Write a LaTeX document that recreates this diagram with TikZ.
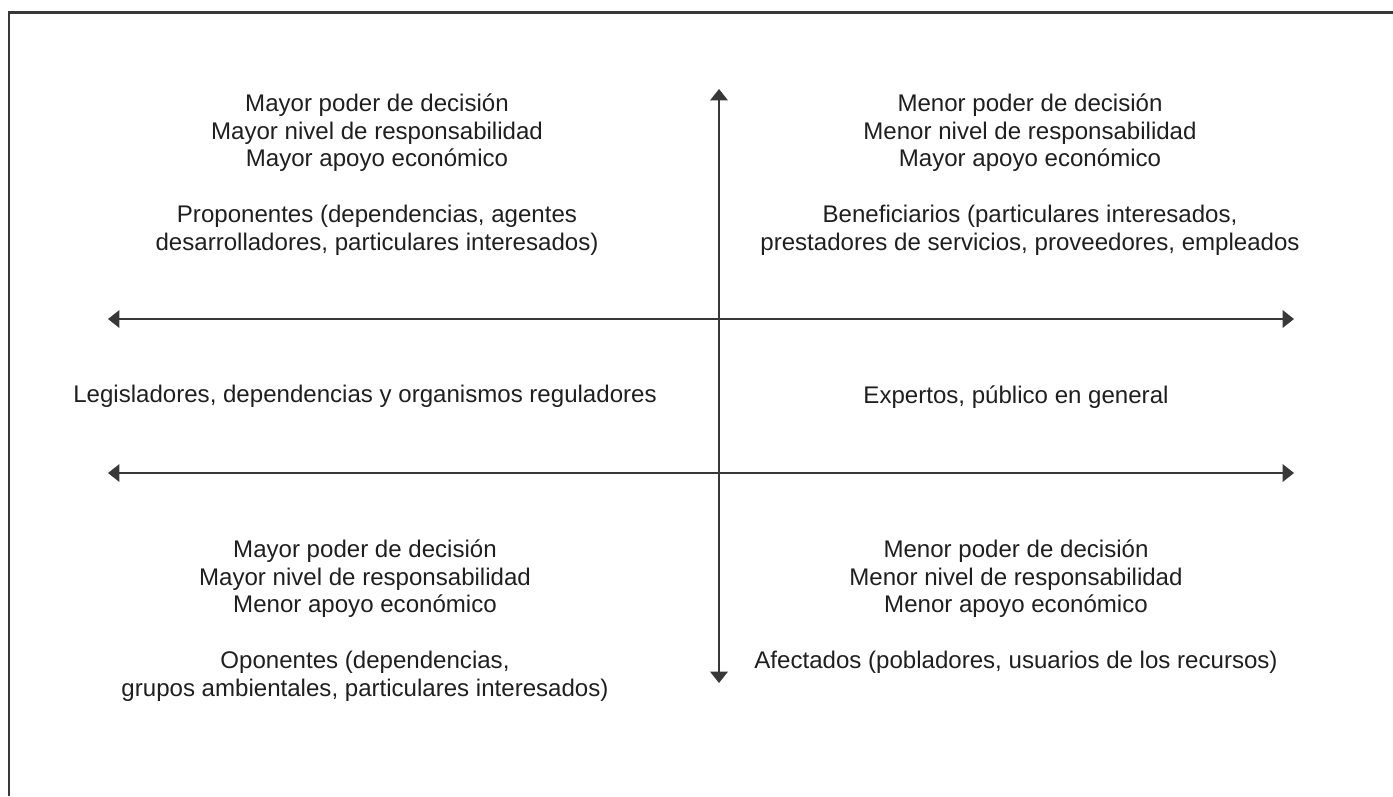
\documentclass[tikz,border=0pt]{standalone}
\usepackage{fontspec}
\setmainfont{Liberation Sans}
\usetikzlibrary{arrows.meta}
\definecolor{ink}{gray}{0.12}
\definecolor{rule}{gray}{0.22}
\tikzset{
    txt/.style={align=center, anchor=north, inner sep=0pt, text=ink,
        font=\fontsize{13.7}{15.9}\selectfont},
    arr/.style={draw=rule, line width=1.1pt,
        {Triangle[width=10pt,length=6.5pt]}-{Triangle[width=10pt,length=6.5pt]}}
}
\begin{document}
\begin{tikzpicture}[x=0.02cm, y=-0.02cm]
            \useasboundingbox (0, 0) rectangle (1393, 796);

            %%frame
            \draw[rule, line width=1.7pt](9, 796) to (9, 12) to (1393, 12);

            %%axes
            \coordinate (top) at(719, 89);
            \coordinate (bot) at(719, 683);
            \coordinate (l1) at(108, 319);
            \coordinate (r1) at(1294, 319);
            \coordinate (l2) at(108, 473);
            \coordinate (r2) at(1294, 473);
            \draw[arr](top) to (bot);
            \draw[arr](l1) to (r1);
            \draw[arr](l2) to (r2);

            %%upper quadrants
            \node[txt] at(377, 93)(prop){Mayor poder de decisión\\Mayor nivel de responsabilidad\\Mayor apoyo económico\\[15.9pt]
                Proponentes (dependencias, agentes\\desarrolladores, particulares interesados)};
            \node[txt] at(1030, 93)(benef){Menor poder de decisión\\Menor nivel de responsabilidad\\Mayor apoyo económico\\[15.9pt]
                Beneficiarios (particulares interesados,\\prestadores de servicios, proveedores, empleados};

            %%middle band
            \node[txt] at(365, 385)(legis){Legisladores, dependencias y organismos reguladores};
            \node[txt] at(1016, 385)(expert){Expertos, público en general};

            %%lower quadrants
            \node[txt] at(365, 539)(opon){Mayor poder de decisión\\Mayor nivel de responsabilidad\\Menor apoyo económico\\[15.9pt]
                Oponentes (dependencias,\\grupos ambientales, particulares interesados)};
            \node[txt] at(1016, 539)(afect){Menor poder de decisión\\Menor nivel de responsabilidad\\Menor apoyo económico\\[15.9pt]
                Afectados (pobladores, usuarios de los recursos)};
        \end{tikzpicture}
\end{document}
